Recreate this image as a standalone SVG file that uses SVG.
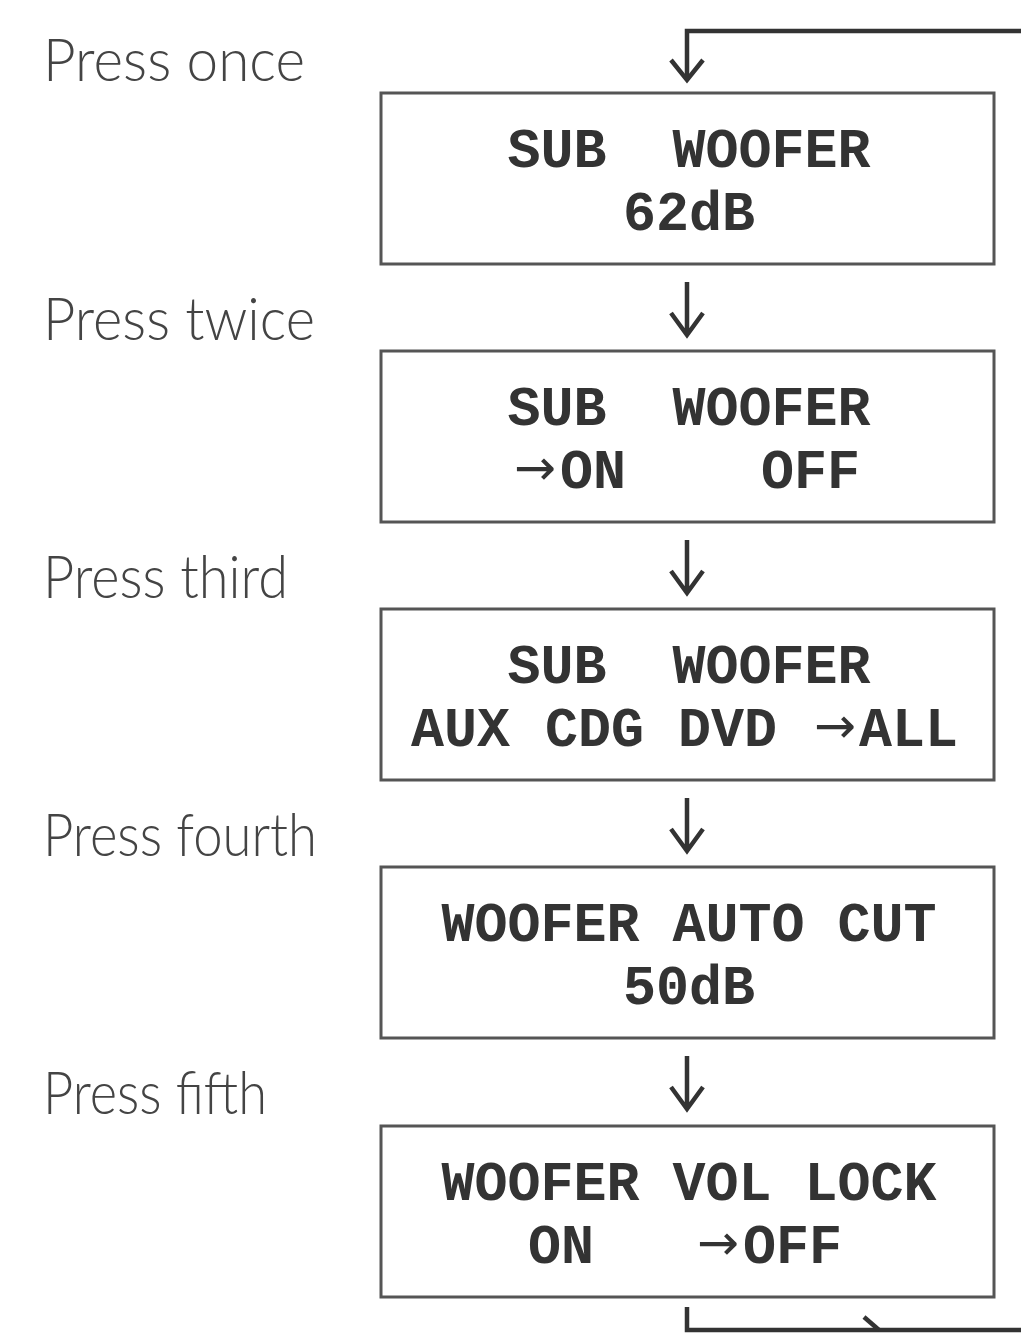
<svg xmlns="http://www.w3.org/2000/svg" width="1021" height="1334" viewBox="0 0 1021 1334">
<style>
.bg{fill:#fff}
.box{fill:#fff;stroke:#555;stroke-width:3}
.lbl{font-family:Lato,"Open Sans","DejaVu Sans",sans-serif;font-weight:300;font-size:60px;fill:#444}
.lcd{font-family:"Liberation Mono","Courier New",monospace;font-weight:bold;font-size:55px;fill:#333}
.arr{font-family:"DejaVu Sans","Liberation Sans",sans-serif;font-weight:normal;font-size:50px;fill:#333}
.ln{fill:none;stroke:#333;stroke-width:4.5;stroke-linecap:butt;stroke-linejoin:miter}
</style>
<rect class="bg" x="0" y="0" width="1021" height="1334"/>
<g id="labels">
<text class="lbl" x="43" y="81" textLength="262" lengthAdjust="spacingAndGlyphs">Press once</text>
<text class="lbl" x="43" y="340" textLength="272" lengthAdjust="spacingAndGlyphs">Press twice</text>
<text class="lbl" x="43" y="598" textLength="245" lengthAdjust="spacingAndGlyphs">Press third</text>
<text class="lbl" x="43" y="856" textLength="274" lengthAdjust="spacingAndGlyphs">Press fourth</text>
<text class="lbl" x="43" y="1114" textLength="224" lengthAdjust="spacingAndGlyphs">Press fifth</text>
</g>
<g id="node1">
<rect class="box" x="381" y="93" width="613" height="171"/>
<text class="lcd" x="689" y="167" text-anchor="middle" xml:space="preserve">SUB  WOOFER</text>
<text class="lcd" x="689" y="230" text-anchor="middle">62dB</text>
</g>
<g id="node2">
<rect class="box" x="381" y="351" width="613" height="171"/>
<text class="lcd" x="689" y="425" text-anchor="middle" xml:space="preserve">SUB  WOOFER</text>
<text class="arr" x="514" y="485" textLength="42" lengthAdjust="spacingAndGlyphs">→</text>
<text class="lcd" x="560" y="488">ON</text>
<text class="lcd" x="761" y="488">OFF</text>
</g>
<g id="node3">
<rect class="box" x="381" y="609" width="613" height="171"/>
<text class="lcd" x="689" y="683" text-anchor="middle" xml:space="preserve">SUB  WOOFER</text>
<text class="lcd" x="411" y="746">AUX</text>
<text class="lcd" x="545" y="746">CDG</text>
<text class="lcd" x="678" y="746">DVD</text>
<text class="arr" x="814" y="743" textLength="42" lengthAdjust="spacingAndGlyphs">→</text>
<text class="lcd" x="859" y="746">ALL</text>
</g>
<g id="node4">
<rect class="box" x="381" y="867" width="613" height="171"/>
<text class="lcd" x="689" y="941" text-anchor="middle">WOOFER AUTO CUT</text>
<text class="lcd" x="689" y="1004" text-anchor="middle">50dB</text>
</g>
<g id="node5">
<rect class="box" x="381" y="1126" width="613" height="171"/>
<text class="lcd" x="689" y="1200" text-anchor="middle">WOOFER VOL LOCK</text>
<text class="lcd" x="528" y="1263">ON</text>
<text class="arr" x="697" y="1260" textLength="42" lengthAdjust="spacingAndGlyphs">→</text>
<text class="lcd" x="743" y="1263">OFF</text>
</g>
<g id="connectors">
<path class="ln" d="M1021 31 H687 V80"/>
<path class="ln" d="M671 60 L687 80 L703 60"/>
<path class="ln" d="M687 282 V334 M671 313 L687 335 L703 313"/>
<path class="ln" d="M687 540 V592 M671 571 L687 593 L703 571"/>
<path class="ln" d="M687 798 V850 M671 829 L687 851 L703 829"/>
<path class="ln" d="M687 1056 V1108 M671 1087 L687 1109 L703 1087"/>
<path class="ln" d="M687 1307 V1330 H1021"/>
<path class="ln" d="M864 1317 L879 1330"/>
</g>
</svg>
